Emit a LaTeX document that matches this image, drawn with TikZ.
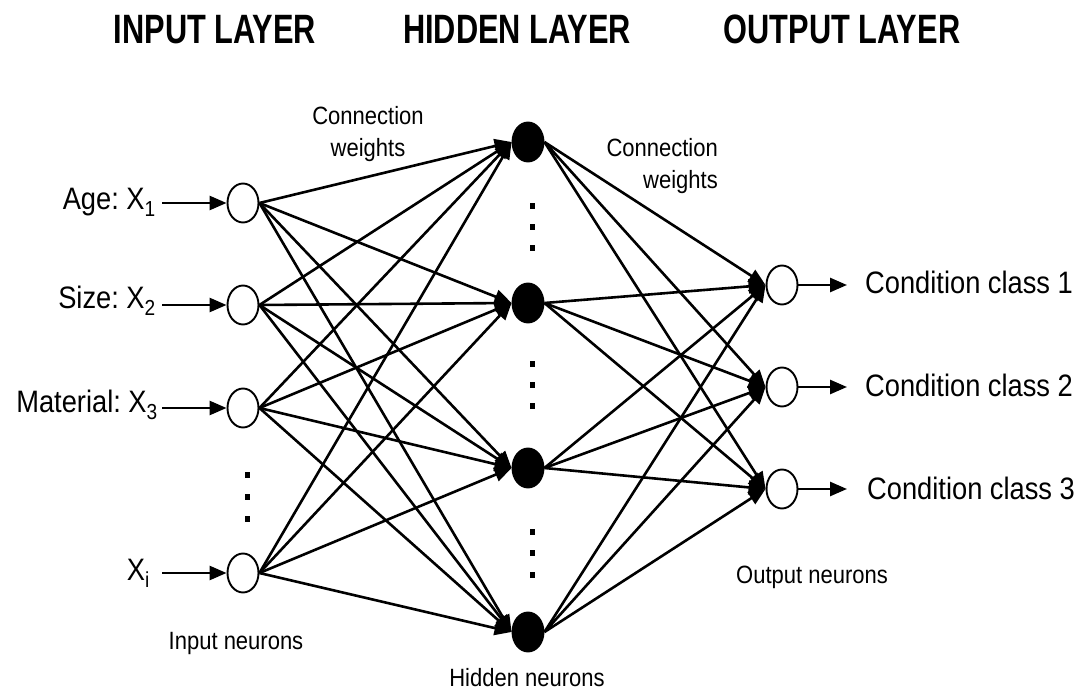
\documentclass[tikz,border=0pt]{standalone}
\usepackage{fontspec}
\setmainfont{Liberation Sans}[FakeStretch=0.88]
\newfontfamily\hdrfont{Liberation Sans}[FakeStretch=0.75]
\usetikzlibrary{arrows.meta,shapes.geometric}
\begin{document}
\frenchspacing
\begin{tikzpicture}[x=1pt,y=-1pt,
  neuron/.style={ellipse,draw,line width=1.9pt,minimum width=31pt,minimum height=39pt,inner sep=0pt},
  inneuron/.style={neuron,fill=white},
  hidneuron/.style={neuron,fill=black},
  conn/.style={line width=2.6pt,-{Triangle[length=17pt,width=14pt]}},
  lbltext/.style={inner sep=0pt,font=\fontsize{31}{33}\selectfont},
  smalltext/.style={inner sep=0pt,font=\fontsize{25}{32}\selectfont},
  hdrtext/.style={inner sep=0pt,font=\hdrfont\bfseries\fontsize{41}{42}\selectfont},
  dotmark/.style={fill=black,minimum width=5pt,minimum height=5.5pt,inner sep=0pt}
]
\useasboundingbox (0,0) rectangle (1085,692);

% headers
\node[hdrtext,anchor=base] (h1) at (215,44) {INPUT LAYER};
\node[hdrtext,anchor=base] (h2) at (517,44) {HIDDEN LAYER};
\node[hdrtext,anchor=base] (h3) at (842,44) {OUTPUT LAYER};

% neurons
\node[inneuron] (i1) at (243,203) {};
\node[inneuron] (i2) at (243,305) {};
\node[inneuron] (i3) at (243,408) {};
\node[inneuron] (i4) at (243,573) {};

\node[hidneuron] (n1) at (528,142) {};
\node[hidneuron] (n2) at (528,303) {};
\node[hidneuron] (n3) at (528,468) {};
\node[hidneuron] (n4) at (528,632) {};

\node[inneuron] (o1) at (782,285) {};
\node[inneuron] (o2) at (782,387) {};
\node[inneuron] (o3) at (782,489) {};

% connections
\foreach \i in {1,...,4}{
  \foreach \h in {1,...,4}{
    \draw[conn] (i\i.east) -- (n\h.west);
  }
}
\foreach \h in {1,...,4}{
  \foreach \o in {1,...,3}{
    \draw[conn] (n\h.east) -- (o\o.west);
  }
}

% input labels and arrows
\node[lbltext,anchor=base east] (l1) at (156,210) {Age: X\textsubscript{1}};
\node[lbltext,anchor=base east] (l2) at (156,309) {Size: X\textsubscript{2}};
\node[lbltext,anchor=base east] (l3) at (158,413) {Material: X\textsubscript{3}};
\node[lbltext,anchor=base east] (l4) at (150,580) {X\textsubscript{i}};
\coordinate (a1) at (162,203);
\coordinate (a2) at (162,305);
\coordinate (a3) at (162,408);
\coordinate (a4) at (162,573);
\foreach \i in {1,...,4}{
  \draw[conn] (a\i) -- (i\i.west);
}

% output arrows and labels
\coordinate (b1) at (847,285);
\coordinate (b2) at (847,387);
\coordinate (b3) at (847,489);
\foreach \o in {1,...,3}{
  \draw[conn] (o\o.east) -- (b\o);
}
\node[lbltext,anchor=base west] (c1) at (865,294) {Condition class 1};
\node[lbltext,anchor=base west] (c2) at (865,397) {Condition class 2};
\node[lbltext,anchor=base west] (c3) at (867,500) {Condition class 3};

% dots
\foreach \y in {475,497,519}{ \node[dotmark] at (247,\y) {}; }
\foreach \y in {206,227,248}{ \node[dotmark] at (532,\y) {}; }
\foreach \y in {364,385,406}{ \node[dotmark] at (532,\y) {}; }
\foreach \y in {532,553,575}{ \node[dotmark] at (532,\y) {}; }

% small labels
\node[smalltext,align=center] (w1) at (368,134) {Connection\\weights};
\node[smalltext,align=right,anchor=east] (w2) at (718,166) {Connection\\weights};
\node[smalltext] (t1) at (236,643) {Input neurons};
\node[smalltext] (t2) at (527,678) {Hidden neurons};
\node[smalltext] (t3) at (812,577) {Output neurons};
\end{tikzpicture}
\end{document}
